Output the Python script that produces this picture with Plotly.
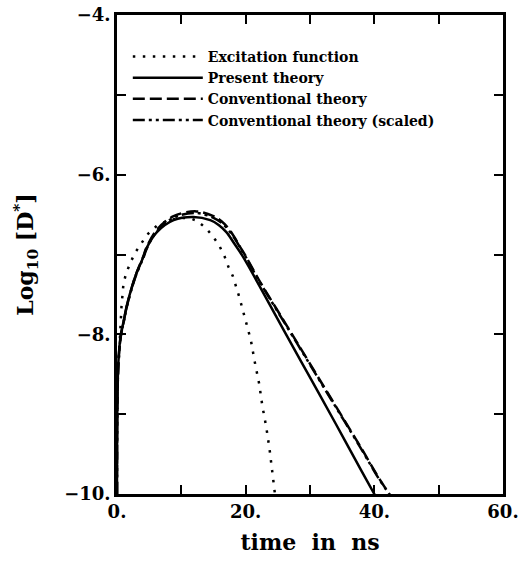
import plotly.graph_objects as go

# Excitation function (dotted)
t_exc = [0.3, 0.7, 1.0, 1.4, 2.1, 2.8, 4.7, 6.2, 8.0, 10.0, 11.5, 12.5, 13.8, 14.9,
         15.9, 16.7, 17.3, 18.0, 18.5, 19.0, 19.9, 20.8, 21.4, 22.1, 22.6, 23.2,
         23.7, 24.1, 24.5, 24.7]
y_exc = [-8.3, -7.65, -7.37, -7.24, -7.10, -6.98, -6.75, -6.64, -6.57, -6.54, -6.55,
         -6.58, -6.67, -6.77, -6.89, -7.02, -7.15, -7.27, -7.40, -7.53, -7.80, -8.07,
         -8.34, -8.62, -8.90, -9.16, -9.43, -9.70, -9.96, -10.1]

# Present theory (solid)
t_pres = [0.0, 0.2, 0.6, 1.0, 1.5, 2.5, 3.0, 4.1, 4.6, 6.2, 8.8, 11.9, 14.5, 15.8,
          17.0, 18.2, 19.6, 22.8, 26.0, 30.0, 34.0, 38.0, 40.0, 40.5]
y_pres = [-10.0, -8.37, -8.0, -7.85, -7.65, -7.36, -7.24, -7.03, -6.92, -6.72, -6.57,
          -6.53, -6.57, -6.63, -6.72, -6.86, -7.03, -7.49, -7.96, -8.54, -9.12, -9.71,
          -10.0, -10.07]

# Conventional theory (dashed)
t_conv = [0.0, 0.2, 0.6, 1.0, 1.5, 2.5, 3.0, 4.1, 4.6, 6.2, 8.8, 12.3, 15.0, 16.2,
          17.4, 18.3, 19.1, 20.0, 22.0, 26.0, 30.0, 34.0, 38.0, 40.4, 42.3, 42.6]
y_conv = [-10.0, -8.4, -8.02, -7.86, -7.66, -7.36, -7.24, -7.02, -6.91, -6.69, -6.52,
          -6.46, -6.52, -6.58, -6.68, -6.79, -6.90, -7.02, -7.31, -7.84, -8.37, -8.90,
          -9.43, -9.76, -10.0, -10.04]

# Conventional theory, scaled (dash-dot)
t_scal = [0.0, 0.2, 0.6, 1.0, 1.5, 2.5, 3.0, 4.1, 4.6, 6.2, 8.8, 12.3, 15.0, 16.2,
          17.4, 18.3, 19.1, 20.0, 22.0, 26.0, 30.0, 34.0, 38.0, 40.4, 42.3, 42.6]
y_scal = [-10.0, -8.4, -8.02, -7.86, -7.66, -7.37, -7.25, -7.04, -6.93, -6.71, -6.54,
          -6.48, -6.54, -6.60, -6.70, -6.80, -6.91, -7.03, -7.32, -7.85, -8.38, -8.91,
          -9.44, -9.77, -10.0, -10.04]

x_tickvals = [0, 20, 40, 60]
x_ticktext = ["<b>0.</b>", "<b>20.</b>", "<b>40.</b>", "<b>60.</b>"]
y_tickvals = [-10, -8, -6, -4]
y_ticktext = ["<b>\u221210.</b>", "<b>\u22128.</b>", "<b>\u22126.</b>", "<b>\u22124.</b>"]

FONT = "DejaVu Serif"

fig = go.Figure()
fig.add_trace(go.Scatter(x=t_exc, y=y_exc, mode="lines", name="<b>Excitation function</b>",
                         line=dict(color="black", width=2.5, dash="2.5px,7.5px")))
fig.add_trace(go.Scatter(x=t_pres, y=y_pres, mode="lines", name="<b>Present theory</b>",
                         line=dict(color="black", width=2.5, shape="spline")))
fig.add_trace(go.Scatter(x=t_conv, y=y_conv, mode="lines", name="<b>Conventional theory</b>",
                         line=dict(color="black", width=2.5, dash="12px,5px", shape="spline")))
fig.add_trace(go.Scatter(x=t_scal, y=y_scal, mode="lines",
                         name="<b>Conventional theory (scaled)</b>",
                         line=dict(color="black", width=2.5, dash="12px,4px,3px,4px,3px,4px",
                                   shape="spline")))

axis_common = dict(showgrid=False, zeroline=False, showline=True, linecolor="black",
                   linewidth=2.5, mirror="ticks", ticks="inside", ticklen=9,
                   tickwidth=2, tickcolor="black", automargin=False,
                   tickfont=dict(family=FONT, size=18, color="black"))

fig.update_xaxes(range=[0, 60], tickvals=x_tickvals, ticktext=x_ticktext,
                 minor=dict(tickvals=[10, 30, 50], ticks="inside", ticklen=9,
                            tickwidth=2, tickcolor="black", showgrid=False),
                 title=dict(text="<b>time  in  ns</b>", font=dict(family=FONT, size=22,
                                                                 color="black"),
                            standoff=14),
                 **axis_common)
fig.update_yaxes(range=[-10, -4], tickvals=y_tickvals, ticktext=y_ticktext,
                 minor=dict(tickvals=[-9, -7, -5], ticks="inside", ticklen=9,
                            tickwidth=2, tickcolor="black", showgrid=False),
                 title=dict(text="<b>Log<sub>10</sub> [D<sup>*</sup>]</b>",
                            font=dict(family=FONT, size=22, color="black"),
                            standoff=25),
                 **axis_common)

fig.update_layout(
    width=522, height=563,
    margin=dict(l=117, r=19, t=15, b=69),
    plot_bgcolor="white", paper_bgcolor="white",
    showlegend=True,
    legend=dict(x=0.028, y=0.946, xanchor="left", yanchor="top",
                bgcolor="rgba(0,0,0,0)", borderwidth=0, itemwidth=70,
                font=dict(family=FONT, size=14, color="black")),
)

fig.write_html("out.html", config={"displayModeBar": False},
               post_script="document.body.style.margin='0';")
